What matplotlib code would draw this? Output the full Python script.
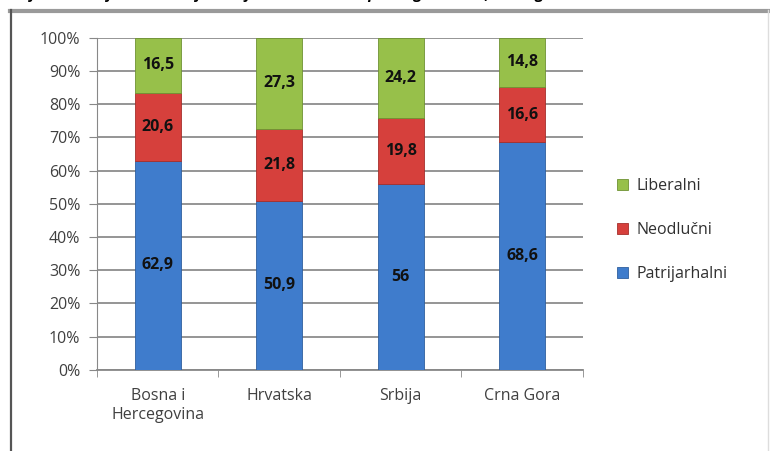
import matplotlib.pyplot as plt
from matplotlib.lines import Line2D

# data (percent)
countries = ["Bosna i\nHercegovina", "Hrvatska", "Srbija", "Crna Gora"]
patrijarhalni = [62.9, 50.9, 56.0, 68.6]
neodlucni = [20.6, 21.8, 19.8, 16.6]
liberalni = [16.5, 27.3, 24.2, 14.8]
pat_labels = ["62,9", "50,9", "56", "68,6"]
neo_labels = ["20,6", "21,8", "19,8", "16,6"]
lib_labels = ["16,5", "27,3", "24,2", "14,8"]
yticks = [0, 10, 20, 30, 40, 50, 60, 70, 80, 90, 100]

blue = "#3f7ccc"
red = "#d6403c"
green = "#97c04a"
font = ["Open Sans", "DejaVu Sans"]

fig = plt.figure(figsize=(7.7, 4.51), dpi=100)

# caption (cropped at the top edge, as in the source) and frame around the chart
fig.text(0.005, 1.01, "Grafikon 1: Vrijednosne orijentacije u državama Zapadnog Balkana, 2014. godine",
         fontsize=11, fontweight="bold", style="italic", family=font, va="center", ha="left")
fig.add_artist(Line2D([0.013, 1.0], [0.976, 0.976], transform=fig.transFigure,
                      color="#9a9a9a", lw=3))
fig.add_artist(Line2D([0.014, 0.014], [0.978, 0.0], transform=fig.transFigure,
                      color="#555555", lw=1.6))
fig.add_artist(Line2D([0.998, 0.998], [0.978, 0.0], transform=fig.transFigure,
                      color="#dddddd", lw=1))

ax = fig.add_axes([0.126, 0.18, 0.631, 0.736])
x = range(len(countries))
w = 0.38
neo_bottom = patrijarhalni
lib_bottom = [p + n for p, n in zip(patrijarhalni, neodlucni)]

ax.bar(x, patrijarhalni, w, color=blue, edgecolor="#2f5f9e", lw=0.6, label="Patrijarhalni", zorder=3)
ax.bar(x, neodlucni, w, bottom=neo_bottom, color=red, edgecolor="#a52f2c", lw=0.6, label="Neodlučni", zorder=3)
ax.bar(x, liberalni, w, bottom=lib_bottom, color=green, edgecolor="#6f9233", lw=0.6, label="Liberalni", zorder=3)

for i in x:
    ax.text(i, patrijarhalni[i] / 2, pat_labels[i], ha="center", va="center",
            fontsize=11.5, fontweight="bold", family=font, color="#111111", zorder=4)
    ax.text(i, neo_bottom[i] + neodlucni[i] / 2, neo_labels[i], ha="center", va="center",
            fontsize=11.5, fontweight="bold", family=font, color="#111111", zorder=4)
    ax.text(i, lib_bottom[i] + liberalni[i] / 2, lib_labels[i], ha="center", va="center",
            fontsize=11.5, fontweight="bold", family=font, color="#111111", zorder=4)

ax.set_xlim(-0.5, len(countries) - 0.5)
ax.set_ylim(0, 100)
ax.set_yticks(yticks)
ax.set_yticklabels([f"{t}%" for t in yticks], fontsize=11.5, family=font, color="#404040")
ax.set_xticks(list(x))
ax.set_xticklabels(countries, fontsize=11.5, family=font, color="#404040", linespacing=1.3)
ax.set_xticks([-0.5, 0.5, 1.5, 2.5, 3.5], minor=True)
ax.tick_params(axis="x", which="major", length=0, pad=13)
ax.tick_params(axis="x", which="minor", length=5, color="#888888")
ax.tick_params(axis="y", length=6, color="#888888", pad=6)
ax.grid(axis="y", color="#8c8c8c", lw=1.3, zorder=0)
for side in ["top", "right"]:
    ax.spines[side].set_visible(False)
ax.spines["left"].set_color("#888888")
ax.spines["bottom"].set_color("#888888")
ax.spines["bottom"].set_linewidth(1.3)

handles, labels = ax.get_legend_handles_labels()
leg = fig.legend(handles[::-1], labels[::-1], loc="center left", bbox_to_anchor=(0.783, 0.49),
                 frameon=False, handlelength=0.7, handleheight=0.7, labelspacing=1.75,
                 handletextpad=0.5, prop={"family": font, "size": 11.5})
for t in leg.get_texts():
    t.set_color("#303030")

fig.savefig("out.png", dpi=100)
